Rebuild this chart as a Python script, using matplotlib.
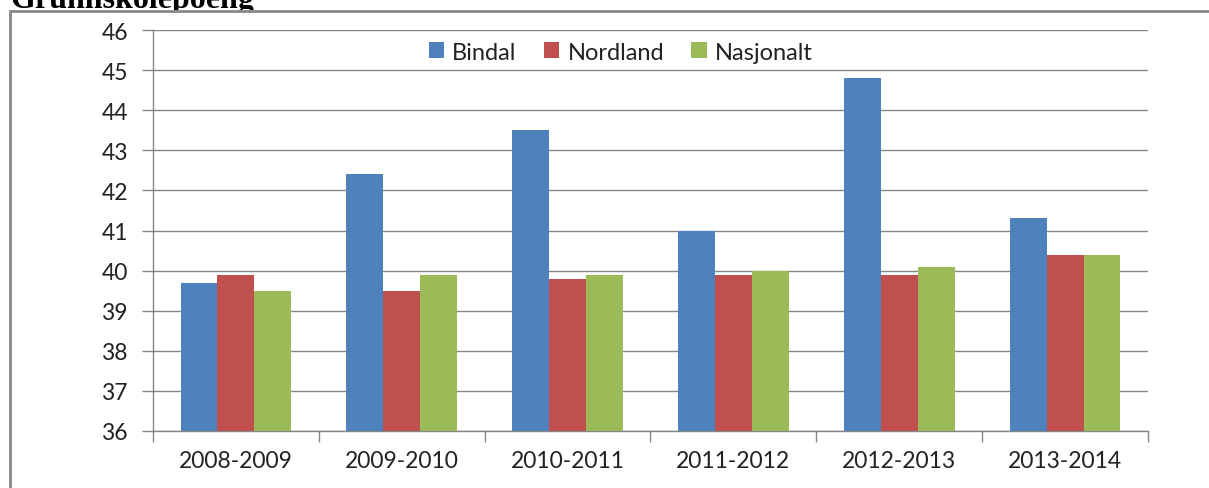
import matplotlib
matplotlib.use("Agg")
import matplotlib.pyplot as plt
from matplotlib.patches import Rectangle
from matplotlib.transforms import Bbox
import numpy as np

categories = ["2008-2009", "2009-2010", "2010-2011", "2011-2012", "2012-2013", "2013-2014"]
bindal = [39.7, 42.4, 43.5, 41.0, 44.8, 41.3]
nordland = [39.9, 39.5, 39.8, 39.9, 39.9, 40.4]
nasjonalt = [39.5, 39.9, 39.9, 40.0, 40.1, 40.4]
series_names = ["Bindal", "Nordland", "Nasjonalt"]
colors = ["#4F81BD", "#C0504D", "#9BBB59"]

W, H = 1209, 489
fig = plt.figure(figsize=(W / 100, H / 100), dpi=100)
plt.rcParams['font.family'] = ['Lato', 'DejaVu Sans']

ax = fig.add_axes([153 / W, 1 - 432 / H, (1148 - 153) / W, (432 - 31) / H])

x = np.arange(len(categories))
bw = 1 / 4.5
for i, (vals, name, c) in enumerate(zip([bindal, nordland, nasjonalt], series_names, colors)):
    ax.bar(x + (i - 1) * bw, np.array(vals) - 36, bottom=36, width=bw, color=c,
           label=name, zorder=3, linewidth=0)

ax.set_xlim(-0.5, len(categories) - 0.5)
ax.set_ylim(36, 46)
ax.set_yticks(np.arange(36, 47, 1))
ax.set_yticklabels([str(v) for v in range(36, 47)])
ax.set_xticks(x)
ax.set_xticklabels(categories)
ax.set_xticks(np.arange(-0.5, len(categories), 1), minor=True)
ax.tick_params(axis='x', which='major', length=0, pad=14, labelsize=16.5, labelcolor='#222222')
ax.tick_params(axis='x', which='minor', length=8, width=1, color='#868686', direction='out')
ax.tick_params(axis='y', length=8, width=1, color='#868686', pad=10, labelsize=16.5, labelcolor='#222222')

ax.grid(axis='y', color='#868686', linewidth=1, zorder=0)
ax.set_axisbelow(True)
for s in ['top', 'right']:
    ax.spines[s].set_visible(False)
for s in ['left', 'bottom']:
    ax.spines[s].set_color('#868686')
    ax.spines[s].set_linewidth(1)

leg = ax.legend(loc='center', bbox_to_anchor=(0.47, 0.945), ncol=3, frameon=False,
                fontsize=17, handlelength=0.65, handleheight=0.65, handletextpad=0.35,
                columnspacing=1.15, borderaxespad=0)
for t in leg.get_texts():
    t.set_color('#222222')

# outer frame
frame = Rectangle((10 / W, -0.1), 1.2, 1 - 12 / H + 0.1, transform=fig.transFigure,
                  fill=False, edgecolor='#878787', linewidth=2, clip_on=False)
fig.patches.append(frame)

# title (cut at top, as in the reference)
title = fig.text(10 / W, 1 - 8 / H, "Grunnskolepoeng", fontsize=23, fontweight='bold',
                 family=['Liberation Serif', 'DejaVu Serif'], va='baseline', ha='left', color='black')
title.set_clip_box(Bbox([[0, H - 10.5], [W, H]]))
title.set_clip_on(True)

fig.savefig("out.png", dpi=100)
